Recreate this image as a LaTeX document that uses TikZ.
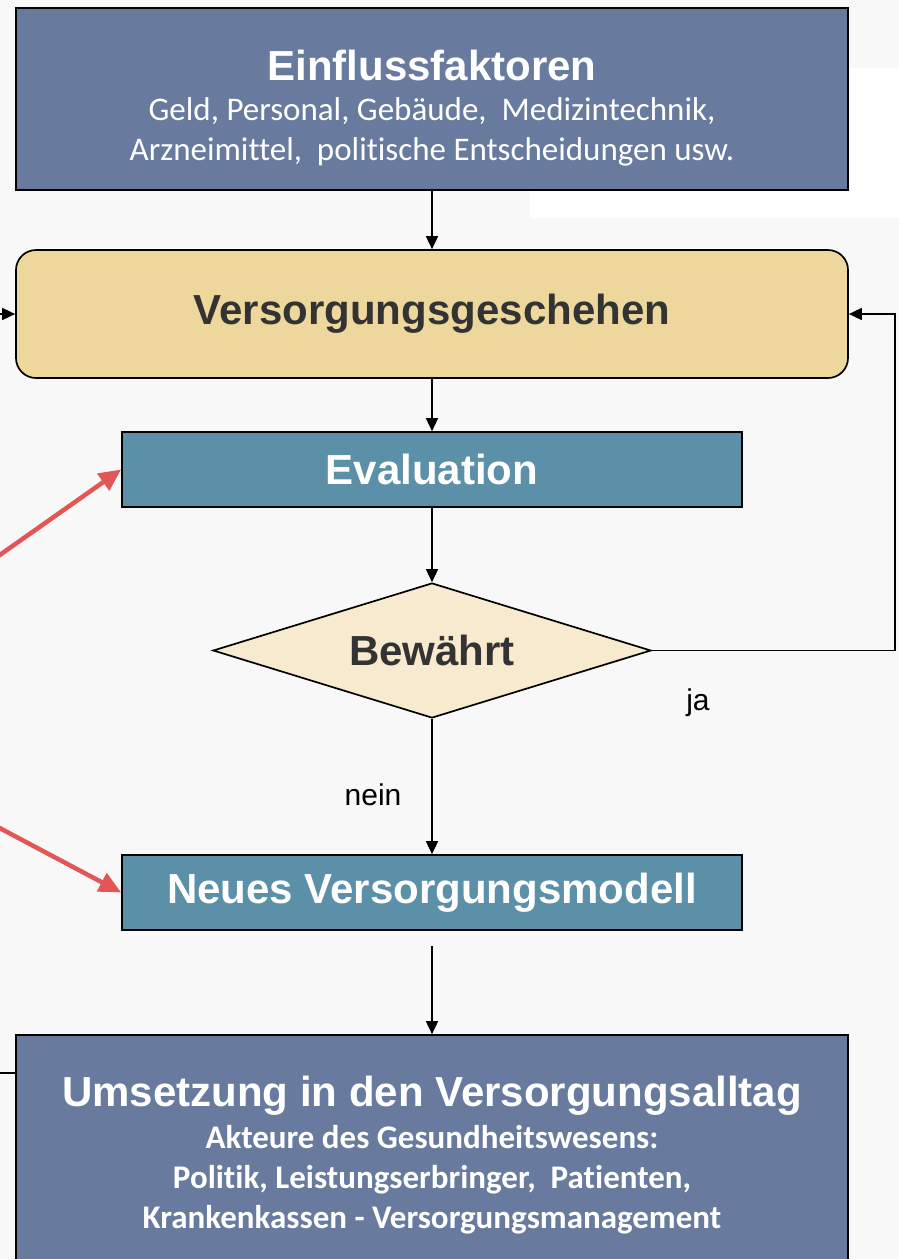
\documentclass[tikz,border=0pt]{standalone}
\usepackage{fontspec}
\newfontfamily\arialfont{Liberation Sans}
\newfontfamily\calfont[Ligatures=NoCommon]{Carlito}
\usetikzlibrary{arrows.meta,positioning,shapes.geometric}
\definecolor{pagegray}{HTML}{F8F8F8}
\definecolor{slateblue}{HTML}{687B9F}
\definecolor{sandfill}{HTML}{EDD79D}
\definecolor{tealfill}{HTML}{5B90A8}
\definecolor{creamfill}{HTML}{F7EACE}
\definecolor{darktext}{HTML}{333333}
\definecolor{redarrow}{HTML}{E35656}
\newcommand{\headfont}{\arialfont\bfseries\fontsize{42}{48}\selectfont}
\newcommand{\subfont}{\calfont\fontsize{33}{40}\selectfont}
\newcommand{\subboldfont}{\calfont\bfseries\fontsize{33}{40}\selectfont}

\begin{document}
\begin{tikzpicture}[x=1pt,y=-1pt,>={Triangle[length=13pt,width=12pt]},
  every node/.style={inner sep=0pt},
  flow/.style={->,line width=1.7pt},
  bigbox/.style={draw,line width=1.7pt,fill=slateblue,text=white,minimum width=832pt,align=center,
    font=\calfont\fontsize{33}{40}\selectfont},
  midbox/.style={draw,line width=1.7pt,fill=tealfill,text=white,minimum width=620pt,minimum height=75pt,
    font=\headfont},
  lbl/.style={font=\arialfont\fontsize{30}{36}\selectfont}]
\path[use as bounding box,fill=pagegray] (0,0) rectangle (899,1259);
\clip (0,0) rectangle (899,1259);
\fill[white] (530,68) rectangle (899,218);
\node[bigbox,minimum height=182pt] (einfluss) at (432,99)
  {\headfont\rule{0pt}{48pt}Einflussfaktoren\\[0pt]
   \subfont Geld, Personal, Gebäude,\ \ Medizintechnik,\\
   \subfont Arzneimittel,\ \ politische Entscheidungen usw.};
\node[draw,line width=1.7pt,fill=sandfill,rounded corners=20pt,minimum width=832pt,minimum height=128pt,
  font=\headfont,text=darktext,below=58.3pt of einfluss] (versorg) {Versorgungsgeschehen};
\node[midbox,below=52.3pt of versorg] (eval) {Evaluation};
\node[diamond,draw,line width=1.7pt,fill=creamfill,aspect=3.2,minimum width=438pt,minimum height=135pt,
  font=\headfont,text=darktext,below=74.3pt of eval] (bewaehrt) {Bewährt};
\node[midbox,below=135.3pt of bewaehrt] (neu) {Neues Versorgungsmodell};
\node[bigbox,minimum height=240pt,below=103.3pt of neu] (umsetz)
  {\headfont Umsetzung in den Versorgungsalltag\\[2pt]
   \subboldfont Akteure des Gesundheitswesens:\\
   \subboldfont Politik, Leistungserbringer,\ \ Patienten,\\
   \subboldfont Krankenkassen - Versorgungsmanagement};
\coordinate (jaturn) at (895,651);
\coordinate (leftin) at (-30,314);
\coordinate (leftout) at (-30,1073);
\coordinate (redup) at (-40,583);
\coordinate (reddown) at (-40,807);
\draw[flow] (einfluss) -- (versorg);
\draw[flow] (versorg) -- (eval);
\draw[flow] (eval) -- (bewaehrt);
\draw[flow] (bewaehrt.east) -- (bewaehrt.east -| jaturn) |- (versorg.east);
\draw[flow] (bewaehrt) -- (neu);
\draw[flow,shorten <=15pt] (neu) -- (umsetz);
\draw[flow] (leftin) -- (versorg.west);
\draw[line width=1.7pt] (leftout) -- (leftout -| umsetz.west);
\draw[redarrow,line width=4.5pt,-{Triangle[length=22pt,width=20pt]}] (redup) -- (eval.west);
\draw[redarrow,line width=4.5pt,-{Triangle[length=22pt,width=20pt]}] (reddown) -- (neu.west);
\node[lbl] (ja) at (698,703) {ja};
\node[lbl] (nein) at (373,795) {nein};
\end{tikzpicture}
\end{document}
